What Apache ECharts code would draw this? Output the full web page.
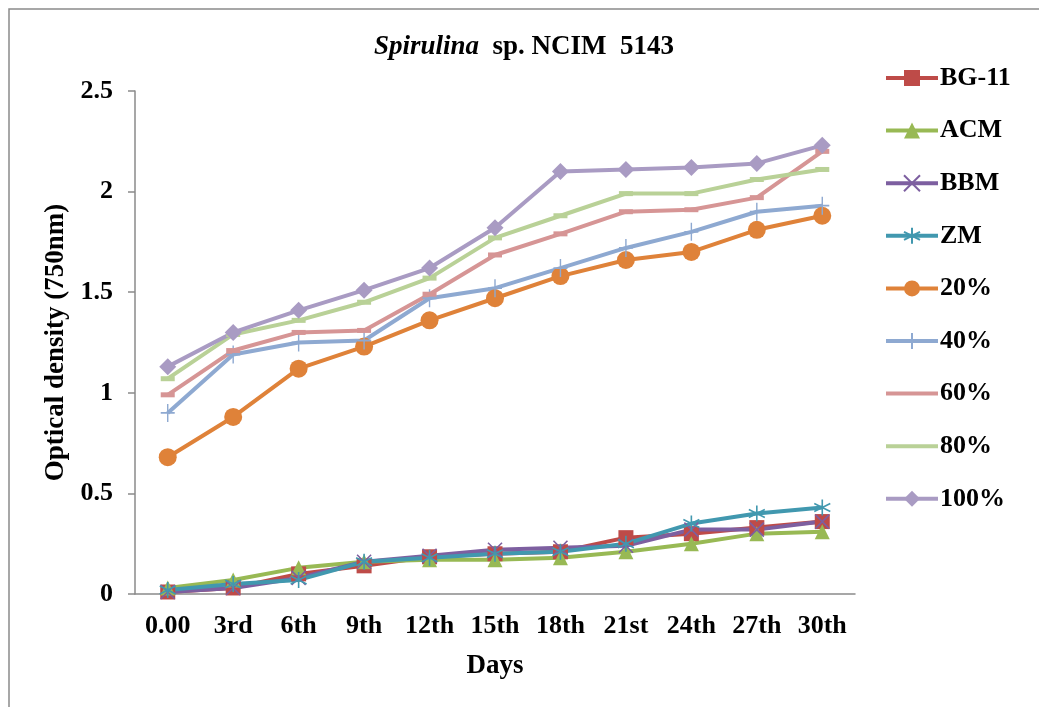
<!DOCTYPE html>
<html>
<head>
<meta charset="utf-8">
<script src="https://cdn.jsdelivr.net/npm/echarts@6/dist/echarts.min.js"></script>
<style>
html,body{margin:0;padding:0;background:#fff;}
#chart{width:1039px;height:707px;}
</style>
</head>
<body>
<div id="chart"></div>
<script>
var days = ['0.00','3rd','6th','9th','12th','15th','18th','21st','24th','27th','30th'];
var seriesNames = ['BG-11','ACM','BBM','ZM','20%','40%','60%','80%','100%'];
var bg11 = [0.01,0.03,0.10,0.14,0.185,0.20,0.21,0.28,0.30,0.33,0.36];
var acm  = [0.03,0.07,0.13,0.16,0.17,0.17,0.18,0.21,0.25,0.30,0.31];
var bbm  = [0.01,0.03,0.08,0.16,0.19,0.22,0.23,0.24,0.32,0.32,0.36];
var zm   = [0.02,0.05,0.07,0.16,0.18,0.20,0.21,0.25,0.35,0.40,0.43];
var p20  = [0.68,0.88,1.12,1.23,1.36,1.47,1.58,1.66,1.70,1.81,1.88];
var p40  = [0.90,1.19,1.25,1.26,1.47,1.52,1.62,1.72,1.80,1.90,1.93];
var p60  = [0.99,1.21,1.30,1.31,1.49,1.685,1.79,1.90,1.91,1.97,2.20];
var p80  = [1.07,1.29,1.36,1.45,1.57,1.77,1.88,1.99,1.99,2.06,2.11];
var p100 = [1.13,1.30,1.41,1.51,1.62,1.82,2.10,2.11,2.12,2.14,2.23];
var yTicks = [0,0.5,1,1.5,2,2.5];

var allData = [bg11,acm,bbm,zm,p20,p40,p60,p80,p100];
var colors = ['#BE4B48','#98B954','#7D5FA0','#4198AF','#DF8239','#8EA9D1','#D69595','#B9D197','#A99BC3'];
var symbols = [
  'rect',
  'triangle',
  'path://M0,0L10,10M10,0L0,10',
  'path://M5,0L5,10M0.7,2.5L9.3,7.5M9.3,2.5L0.7,7.5',
  'circle',
  'path://M5,0L5,10M0,5L10,5',
  'rect',
  'rect',
  'diamond'
];
var sizes = [15,15,14,16,18,[14,18],[14,5],[14,5],17];
var stroked = [false,false,true,true,false,true,false,false,false];
var hideLegendSymbol = [false,false,false,false,false,false,true,true,false];

var FONT = '"Liberation Serif","Times New Roman",serif';

var series = seriesNames.map(function(n,i){
  var it = {color: colors[i]};
  if (stroked[i]) { it = {color: 'none', borderColor: colors[i], borderWidth: 1.6}; }
  return {
    name: n,
    type: 'line',
    data: allData[i],
    symbol: symbols[i],
    symbolSize: sizes[i],
    showSymbol: true,
    lineStyle: {color: colors[i], width: 4},
    itemStyle: it,
    emphasis: {disabled: true},
    animation: false
  };
});

var legendData = seriesNames.map(function(n,i){
  var d = {name: n};
  if (hideLegendSymbol[i]) d.itemStyle = {opacity: 0};
  return d;
});

var chart = echarts.init(document.getElementById('chart'), null, {renderer:'canvas'});
chart.setOption({
  backgroundColor: '#fff',
  animation: false,
  color: colors,
  title: {
    text: '{i|Spirulina}{b|  sp. NCIM  5143}',
    left: 369, top: 29,
    textStyle: {
      rich: {
        i: {fontFamily: FONT, fontStyle: 'italic', fontSize: 27, color: '#000'},
        b: {fontFamily: FONT, fontWeight: 'bold', fontSize: 27, color: '#000'}
      }
    }
  },
  graphic: [{
    type: 'rect',
    shape: {x: 9, y: 9, width: 1100, height: 800},
    style: {fill: 'none', stroke: '#8a8a8a', lineWidth: 1.5},
    silent: true, z: -1
  }],
  legend: {
    orient: 'vertical',
    left: 884, top: 65,
    padding: 0,
    itemWidth: 52, itemHeight: 20, itemGap: 26.6,
    lineStyle: {width: 4},
    textStyle: {fontFamily: FONT, fontWeight: 'bold', fontSize: 26, color: '#000', padding: [0,0,0,-3]},
    data: legendData
  },
  grid: {left: 135, right: 184, top: 91, bottom: 113, containLabel: false},
  xAxis: {
    type: 'category',
    data: days,
    boundaryGap: true,
    axisLine: {lineStyle: {color: '#8a8a8a', width: 1.5}},
    axisTick: {show: false},
    axisLabel: {fontFamily: FONT, fontWeight: 'bold', fontSize: 26, color: '#000', margin: 19},
    name: 'Days',
    nameLocation: 'middle',
    nameGap: 59,
    nameTextStyle: {fontFamily: FONT, fontWeight: 'bold', fontSize: 27, color: '#000'}
  },
  yAxis: {
    type: 'value',
    min: 0, max: 2.5, interval: 0.5,
    axisLine: {show: true, lineStyle: {color: '#8a8a8a', width: 1.5}},
    axisTick: {show: true, length: 7, lineStyle: {color: '#8a8a8a', width: 1.5}},
    splitLine: {show: false},
    axisLabel: {fontFamily: FONT, fontWeight: 'bold', fontSize: 26, color: '#000', margin: 22,
      formatter: function(v){ return yTicks.indexOf(v) >= 0 ? String(v) : ''; }},
    name: 'Optical density (750nm)',
    nameLocation: 'middle',
    nameGap: 64,
    nameTextStyle: {fontFamily: FONT, fontWeight: 'bold', fontSize: 27, color: '#000'}
  },
  series: series
});
</script>
</body>
</html>
